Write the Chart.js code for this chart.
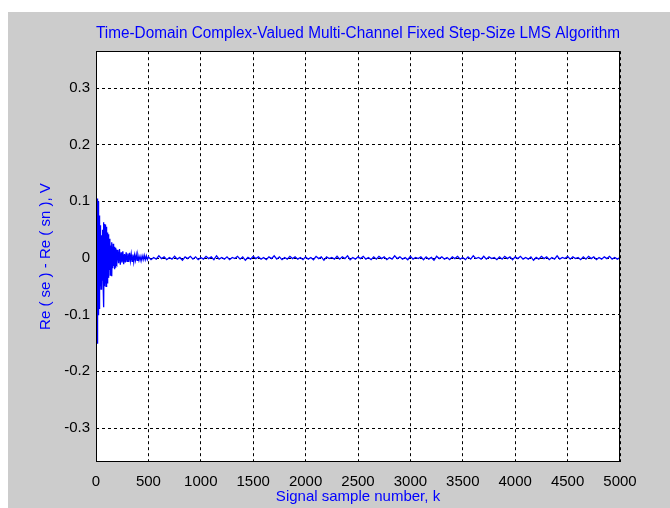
<!DOCTYPE html>
<html lang="en">
<head>
  <meta charset="UTF-8">
  <title>Fixed Step-Size LMS Error</title>
  <script src="https://cdn.jsdelivr.net/npm/chart.js"></script>
  <style>
    body {
      margin: 0;
      background: #ffffff;
    }
    #fig {
      position: absolute;
      left: 8px;
      top: 12px;
      width: 662px;
      height: 496px;
      background: #cccccc;
    }
  </style>
</head>
<body>

  <div id="fig">
    <canvas id="lmsChart" width="662" height="496"></canvas>
  </div>

  <script>
    // tick labels
    const xTicks = [0, 500, 1000, 1500, 2000, 2500, 3000, 3500, 4000, 4500, 5000];
    const yTicks = [-0.3, -0.2, -0.1, 0, 0.1, 0.2, 0.3];

    // transient part of the error, sample number k -> Re(se) - Re(sn)
    const transientK = [
      0, 1, 2, 3, 4, 5, 6, 7, 8, 9, 10, 11, 12, 13, 14, 15, 16, 17, 18, 19,
      20, 21, 22, 23, 24, 25, 26, 27, 28, 29, 30, 31, 32, 33, 34, 35, 36, 37, 38, 39,
      40, 42, 44, 46, 48, 50, 52, 54, 56, 58, 60, 62, 64, 66, 68, 70, 72, 74, 76, 78,
      80, 82, 84, 86, 88, 90, 92, 94, 96, 98, 100, 102, 104, 106, 108, 110, 112, 114, 116, 118,
      120, 124, 128, 132, 136, 140, 144, 148, 152, 156, 160, 164, 168, 172, 176, 180, 184, 188, 192, 196,
      200, 208, 216, 224, 232, 240, 248, 256, 264, 272, 280, 288, 296, 304, 312, 320, 328, 336, 344, 352,
      360, 368, 376, 384, 392, 400, 410, 420, 430, 440, 450, 460, 470, 480, 490
    ];
    const transientErr = [
      0, 0.02, -0.03, 0.05, -0.06, 0.08, -0.09, 0.10, -0.12, 0.104, -0.15, 0.10, -0.148, 0.09, -0.145, 0.105, -0.13, 0.08, -0.11, 0.10,
      -0.10, 0.095, -0.09, 0.10, -0.10, 0.085, -0.08, 0.10, -0.07, 0.075, -0.09, 0.06, -0.065, 0.06, -0.05, 0.06, -0.055, 0.045, -0.06, 0.05,
      -0.05, 0.058, -0.04, 0.045, -0.055, 0.04, -0.045, 0.035, -0.05, 0.03, -0.04, 0.045, -0.03, 0.05, -0.045, 0.063, -0.04, 0.055, -0.087, 0.04,
      -0.05, 0.06, -0.035, 0.058, -0.045, 0.059, -0.03, 0.05, -0.05, 0.04, -0.04, 0.055, -0.03, 0.045, -0.045, 0.035, -0.035, 0.04, -0.025, 0.042,
      -0.035, 0.03, -0.02, 0.034, -0.03, 0.022, -0.025, 0.028, -0.032, 0.02, -0.018, 0.025, -0.014, 0.02, -0.02, 0.012, -0.016, 0.018, -0.01, 0.015,
      -0.012, 0.014, -0.009, 0.016, -0.012, 0.01, -0.008, 0.012, -0.011, 0.007, -0.008, 0.01, -0.006, 0.008, -0.007, 0.009, -0.005, 0.007, -0.006, 0.006,
      -0.007, 0.005, -0.004, 0.006, -0.004, 0.005, -0.004, 0.003, -0.005, 0.004, -0.003, 0.005, -0.003, 0.004, -0.003
    ];

    // steady-state residual, one value every 25 samples from k = 500 to 5000
    const steadyStartK = 500;
    const steadyStepK = 25;
    const steadyErr = [
      0.002, -0.003, 0.001, -0.002, 0.004, -0.001, 0.002, -0.003, 0.001, -0.002, 0.003, -0.002, 0.001, -0.004, 0.002, -0.001, 0.003, -0.002, 0.002, -0.003,
      0.001, -0.002, 0.003, -0.001, 0.002, -0.003, 0.004, -0.002, 0.001, -0.002, 0.002, -0.003, 0.001, -0.001, 0.003, -0.002, 0.002, -0.004, 0.001, -0.002,
      0.003, -0.001, 0.002, -0.002, 0.001, -0.003, 0.002, -0.001, 0.004, -0.002, 0.002, -0.003, 0.001, -0.002, 0.003, -0.001, 0.002, -0.002, 0.001, -0.003,
      0.002, -0.002, 0.001, -0.003, 0.003, -0.001, 0.002, -0.004, 0.002, -0.001, 0.001, -0.002, 0.003, -0.002, 0.002, -0.001, 0.004, -0.003, 0.001, -0.002,
      0.002, -0.001, 0.003, -0.002, 0.001, -0.003, 0.002, -0.002, 0.003, -0.001, 0.002, -0.003, 0.001, -0.002, 0.004, -0.001, 0.002, -0.002, 0.001, -0.003,
      0.003, -0.002, 0.001, -0.001, 0.002, -0.003, 0.002, -0.002, 0.001, -0.004, 0.003, -0.001, 0.002, -0.002, 0.001, -0.003, 0.002, -0.001, 0.003, -0.002,
      0.001, -0.003, 0.002, -0.002, 0.004, -0.001, 0.001, -0.002, 0.003, -0.002, 0.002, -0.001, 0.001, -0.003, 0.002, -0.002, 0.003, -0.001, 0.002, -0.003,
      0.002, -0.001, 0.003, -0.002, 0.001, -0.002, 0.002, -0.004, 0.001, -0.002, 0.003, -0.001, 0.002, -0.003, 0.001, -0.002, 0.004, -0.002, 0.001, -0.001,
      0.003, -0.002, 0.002, -0.001, 0.001, -0.003, 0.002, -0.002, 0.003, -0.001, 0.002, -0.003, 0.001, -0.002, 0.002, -0.001, 0.003, -0.002, 0.001, -0.002,
      0.001
    ];

    const points = transientK.map((k, i) => ({ x: k, y: transientErr[i] }))
      .concat(steadyErr.map((v, i) => ({ x: steadyStartK + i * steadyStepK, y: v })));

    const BLUE = '#0000ff';
    const FONT = "'Liberation Sans', Arial, Helvetica, sans-serif";

    // white axes background + black box, like a MATLAB axes
    const axesBox = {
      id: 'axesBox',
      beforeDraw(chart) {
        const a = chart.chartArea;
        const ctx = chart.ctx;
        ctx.save();
        ctx.fillStyle = '#ffffff';
        ctx.fillRect(a.left, a.top, a.right - a.left, a.bottom - a.top);
        ctx.restore();
      },
      afterDatasetsDraw(chart) {
        const a = chart.chartArea;
        const ctx = chart.ctx;
        ctx.save();
        ctx.strokeStyle = '#000000';
        ctx.lineWidth = 1;
        ctx.strokeRect(Math.round(a.left) + 0.5, Math.round(a.top) + 0.5,
          Math.round(a.right - a.left) - 1, Math.round(a.bottom - a.top) - 1);
        ctx.restore();
      }
    };

    new Chart(document.getElementById('lmsChart'), {
      type: 'line',
      data: {
        datasets: [{
          data: points,
          borderColor: BLUE,
          borderWidth: 1.3,
          pointRadius: 0,
          tension: 0,
          fill: false
        }]
      },
      options: {
        responsive: false,
        animation: false,
        layout: { padding: { left: 0, top: 0, right: 50, bottom: 0 } },
        plugins: {
          legend: { display: false },
          tooltip: { enabled: false },
          title: {
            display: true,
            fullSize: false,
            text: 'Time-Domain Complex-Valued Multi-Channel Fixed Step-Size LMS Algorithm',
            color: BLUE,
            font: { family: FONT, size: 16, weight: 'normal' },
            padding: { top: 12, bottom: 8 }
          }
        },
        scales: {
          x: {
            type: 'linear',
            min: 0,
            max: 5000,
            afterBuildTicks: s => { s.ticks = xTicks.map(v => ({ value: v })); },
            afterFit: s => { s.height = 46; },
            ticks: {
              color: '#000000',
              font: { family: FONT, size: 15 },
              padding: 11,
              maxRotation: 0,
              autoSkip: false,
              callback: v => String(v)
            },
            grid: { color: '#000000', lineWidth: 1, drawTicks: false },
            border: { display: false, dash: [3, 3] },
            title: {
              display: true,
              text: 'Signal sample number, k',
              color: BLUE,
              font: { family: FONT, size: 15 },
              padding: { top: 0, bottom: 2 }
            }
          },
          y: {
            min: -0.36,
            max: 0.365,
            afterBuildTicks: s => { s.ticks = yTicks.map(v => ({ value: v })); },
            afterFit: s => { s.width = 88; },
            ticks: {
              color: '#000000',
              font: { family: FONT, size: 15 },
              padding: 6,
              autoSkip: false,
              callback: v => String(v)
            },
            grid: { color: '#000000', lineWidth: 1, drawTicks: false },
            border: { display: false, dash: [3, 3] },
            title: {
              display: true,
              text: 'Re ( se ) - Re ( sn ), V',
              color: BLUE,
              font: { family: FONT, size: 15 },
              padding: { top: 29, bottom: 0 }
            }
          }
        }
      },
      plugins: [axesBox]
    });
  </script>

</body>
</html>
